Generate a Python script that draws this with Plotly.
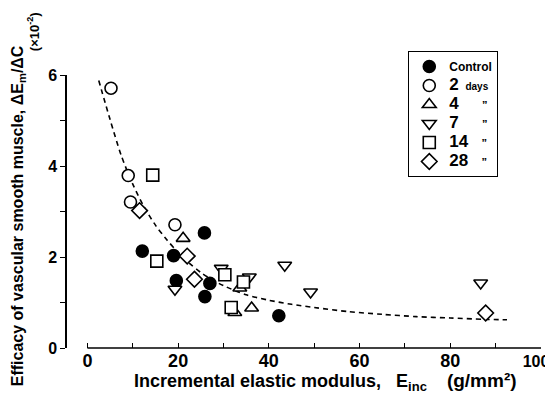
import plotly.graph_objects as go

# ---- data ----
control_x = [12.1, 19.0, 19.6, 25.8, 25.9, 27.0, 42.2]
control_y = [2.13, 2.03, 1.48, 2.53, 1.13, 1.42, 0.71]

d2_x = [5.2, 9.0, 9.5, 19.3]
d2_y = [5.71, 3.79, 3.21, 2.71]

d4_x = [21.1, 33.6, 36.2, 32.5]
d4_y = [2.41, 1.32, 0.88, 0.78]

d7_x = [19.3, 29.5, 35.7, 43.5, 49.2, 86.7]
d7_y = [1.29, 1.75, 1.56, 1.82, 1.23, 1.43]

d14_x = [14.4, 15.3, 30.3, 34.4, 31.7]
d14_y = [3.80, 1.91, 1.61, 1.45, 0.89]

d28_x = [11.5, 22.0, 23.6, 87.8]
d28_y = [3.02, 2.02, 1.51, 0.77]

curve_x = [2.5, 5.0, 7.5, 10.0, 12.5, 15.0, 17.5, 20.0, 22.5, 25.0, 27.5, 30.0,
           35.0, 40.0, 45.0, 50.0, 57.5, 65.0, 72.5, 80.0, 87.5, 92.5]
curve_y = [5.88, 5.02, 4.22, 3.60, 3.10, 2.70, 2.38, 2.10, 1.86, 1.66, 1.50, 1.37,
           1.17, 1.05, 0.96, 0.89, 0.80, 0.74, 0.69, 0.66, 0.63, 0.62]

x_tickvals = [0, 20, 40, 60, 80, 100]
x_ticktext = ['0', '20', '40', '60', '80', "<span style='font-size:16px'>100</span>  "]
x_minorvals = [10, 30, 50, 70, 90]
y_tickvals = [0, 2, 4, 6]
y_ticktext = ['0', '2', '4', '6']
y_minorvals = [1, 3, 5]

FONT = "Liberation Sans, Arial, sans-serif"
DITTO = "<span style='font-size:11px'>\u201d</span>"

series = [
    ("Control", control_x, control_y, "circle", "black"),
    ("<span style='font-size:17px'>2</span>  <span style='font-size:10px'>days</span>", d2_x, d2_y, "circle", "white"),
    ("<span style='font-size:17px'>4</span>       " + DITTO, d4_x, d4_y, "triangle-up", "white"),
    ("<span style='font-size:17px'>7</span>       " + DITTO, d7_x, d7_y, "triangle-down", "white"),
    ("<span style='font-size:17px'>14</span>    " + DITTO, d14_x, d14_y, "square", "white"),
    ("<span style='font-size:17px'>28</span>    " + DITTO, d28_x, d28_y, "diamond", "white"),
]

fig = go.Figure()

fig.add_trace(go.Scatter(
    x=curve_x, y=curve_y, mode="lines", showlegend=False,
    line=dict(color="black", width=1.6, dash="5px,4px", shape="spline", smoothing=0.8),
    hoverinfo="skip"))

for name, xs, ys, sym, fill in series:
    fig.add_trace(go.Scatter(
        x=xs, y=ys, mode="markers", name=name,
        marker=dict(symbol=sym, size=12, color=fill,
                    line=dict(color="black", width=1.6))))

# the page body adds an 8px offset, so the figure is 8px smaller on each side
fig.update_layout(
    width=545, height=392,
    margin=dict(l=59, r=12, t=67, b=52, autoexpand=False),
    paper_bgcolor="white", plot_bgcolor="white",
    font=dict(family=FONT, color="black", size=14, weight="bold"),
    showlegend=True,
    legend=dict(x=0.72, y=1.088, xanchor="left", yanchor="top",
                bordercolor="black", borderwidth=1, bgcolor="white",
                font=dict(family=FONT, size=12, weight="bold", color="black"),
                itemwidth=30, tracegroupgap=0),
    xaxis=dict(range=[-4.5, 100], tickmode="array", tickvals=x_tickvals, ticktext=x_ticktext,
               ticks="inside", ticklen=5, tickwidth=1.3, tickcolor="black",
               ticklabeloverflow="allow",
               minor=dict(tickmode="array", tickvals=x_minorvals, ticks="inside",
                          ticklen=5, tickwidth=1.3, tickcolor="black", showgrid=False),
               showline=False, showgrid=False, zeroline=False,
               tickfont=dict(family=FONT, size=18, weight="bold")),
    yaxis=dict(range=[0, 6], tickmode="array", tickvals=y_tickvals, ticktext=y_ticktext,
               ticks="outside", ticklen=5, tickwidth=1.3, tickcolor="black",
               minor=dict(tickmode="array", tickvals=y_minorvals, ticks="outside",
                          ticklen=5, tickwidth=1.3, tickcolor="black", showgrid=False),
               showline=True, linecolor="black", linewidth=1.5,
               showgrid=False, zeroline=False,
               tickfont=dict(family=FONT, size=16, weight="bold")),
    shapes=[dict(type="line", xref="x", yref="paper", x0=0, x1=100, y0=0, y1=0,
                 line=dict(color="black", width=1.5))],
    annotations=[
        dict(text="Efficacy of vascular smooth muscle, ΔE<sub>m</sub>/ΔC",
             xref="paper", yref="paper", x=-0.102, y=0.485, textangle=-90,
             xanchor="center", yanchor="middle", showarrow=False,
             font=dict(family=FONT, size=16, weight="bold")),
        dict(text="(×10<sup>-2</sup>)",
             xref="paper", yref="paper", x=-0.070, y=1.16, textangle=-90,
             xanchor="center", yanchor="middle", showarrow=False,
             font=dict(family=FONT, size=13, weight="bold")),
        dict(text="Incremental elastic modulus,   E<sub><span style='font-size:13px'>inc</span></sub>    "
                  "<span style='font-size:19px'>(g/mm²)</span>",
             xref="paper", yref="paper", x=0.546, y=-0.125,
             xanchor="center", yanchor="middle", showarrow=False,
             font=dict(family=FONT, size=18, weight="bold")),
    ],
)

fig.write_html("out.html")
